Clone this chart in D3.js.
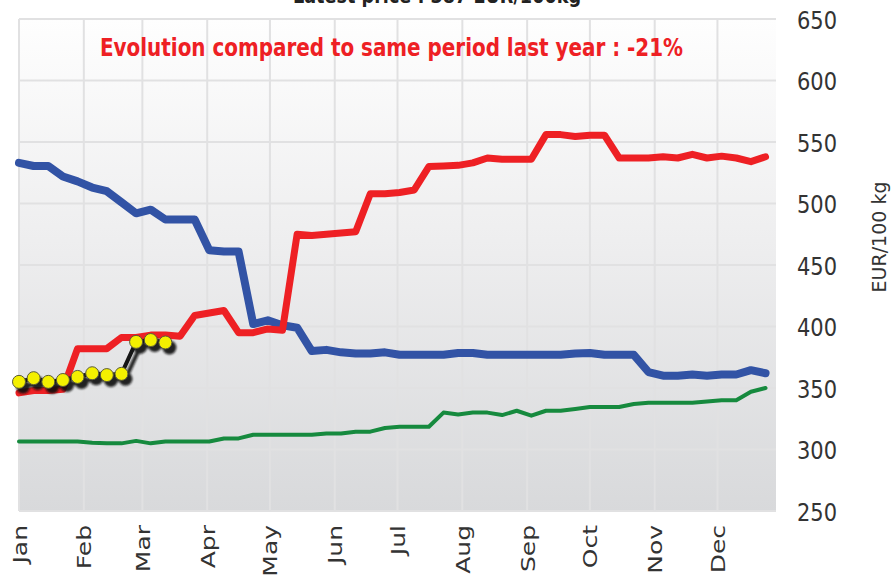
<!DOCTYPE html>
<html><head><meta charset="utf-8">
<script src="https://cdn.jsdelivr.net/npm/d3@7"></script>
<style>body{margin:0;background:#fff}svg{display:block}</style>
</head><body>
<svg id="c" width="893" height="579"></svg>
<script>
// ---- data ----
const titleText = "Latest price : 387 EUR/100kg";
const subtitleText = "Evolution compared to same period last year : -21%";
const yAxisTitle = "EUR/100 kg";
const yTicks = [250, 300, 350, 400, 450, 500, 550, 600, 650];
const monthLabels = ["Jan","Feb","Mar","Apr","May","Jun","Jul","Aug","Sep","Oct","Nov","Dec"];
const year = 2023;

const seriesRed = [346,348,348,349,382,382,382,391,391,393,393,392,409,411,413,395,395,398,397,475,474,475,476,477,508,508,509,511,530,530.5,531,533,537,536,536,536,556,556,554.5,555.5,555.5,537,537,537,538,537,540,537,538.5,537,534,538];
const seriesBlue = [533,530.5,530.5,522,518,513,510,501,492,495,487,487,487,462,461,461,402,405,401,399,380,381,379,378,378,379,377,377,377,377,378.5,378.5,377,377,377,377,377,377,378,378.5,377,377,377,363,360,360,361,360,361,361,364.5,362];
const seriesGreen = [306.5,306.5,306.5,306.5,306.5,305.5,305,305,307,305,306.5,306.5,306.5,306.5,309,309,312,312,312,312,312,313,313,314.5,314.5,317.5,318.5,318.5,318.5,330,328.5,330,330,328,331.5,327.5,331.5,331.5,333,334.5,334.5,334.5,337,338,338,338,338,339,340,340,347,350];
const seriesCurrent = [355,358,355,356.5,359,362,360.5,361.5,387.5,389,387];

// ---- layout ----
const svg = d3.select("#c");
const L = 19, R = 776, T = 19, B = 511;
const dateOf = i => d3.timeDay.offset(new Date(year,0,1), 7*i);
const x = d3.scaleTime().domain([new Date(year,0,1), new Date(year,11,29)]).range([L, R]);
const y = d3.scaleLinear().domain([250, 650]).range([B, T]);
const monthStarts = monthLabels.map((m,i) => new Date(year, i, 1));

const defs = svg.append("defs");
const grad = defs.append("linearGradient").attr("id","bg").attr("x1",0).attr("y1",0).attr("x2",0).attr("y2",1);
grad.append("stop").attr("offset","0%").attr("stop-color","#fefefe");
grad.append("stop").attr("offset","45%").attr("stop-color","#eeeeef");
grad.append("stop").attr("offset","100%").attr("stop-color","#d8d9db");
const blur = defs.append("filter").attr("id","sh").attr("x","-20%").attr("y","-20%").attr("width","140%").attr("height","140%");
blur.append("feGaussianBlur").attr("stdDeviation",1.2);

svg.append("rect").attr("x",L).attr("y",T).attr("width",R-L).attr("height",B-T).attr("fill","url(#bg)");

// grid
const grid = svg.append("g").attr("stroke","#e1e1e2").attr("stroke-width",2);
grid.selectAll("line.h").data(yTicks).join("line").attr("class","h")
  .attr("x1",L).attr("x2",R).attr("y1",d=>y(d)).attr("y2",d=>y(d));
grid.selectAll("line.v").data(monthStarts).join("line").attr("class","v")
  .attr("x1",d=>x(d)).attr("x2",d=>x(d)).attr("y1",T).attr("y2",B);

// lines
const line = d3.line().x((d,i)=>x(dateOf(i))).y(d=>y(d)).curve(d3.curveLinear);
svg.append("path").datum(seriesGreen).attr("d",line).attr("fill","none")
  .attr("stroke","#168a3e").attr("stroke-width",4).attr("stroke-linejoin","round").attr("stroke-linecap","round");
svg.append("path").datum(seriesBlue).attr("d",line).attr("fill","none")
  .attr("stroke","#3253a5").attr("stroke-width",8).attr("stroke-linejoin","round").attr("stroke-linecap","round");
svg.append("path").datum(seriesRed).attr("d",line).attr("fill","none")
  .attr("stroke","#ee2024").attr("stroke-width",7).attr("stroke-linejoin","round").attr("stroke-linecap","round");

// current year with shadow
const sh = svg.append("g").attr("transform","translate(4,5)").attr("filter","url(#sh)").attr("opacity",0.9);
sh.append("path").datum(seriesCurrent).attr("d",line).attr("fill","none").attr("stroke","#111").attr("stroke-width",4);
sh.selectAll("circle").data(seriesCurrent).join("circle")
  .attr("cx",(d,i)=>x(dateOf(i))).attr("cy",d=>y(d)).attr("r",7).attr("fill","#111");
svg.append("path").datum(seriesCurrent).attr("d",line).attr("fill","none")
  .attr("stroke","#151515").attr("stroke-width",4).attr("stroke-linejoin","round");
svg.append("g").selectAll("circle").data(seriesCurrent).join("circle")
  .attr("cx",(d,i)=>x(dateOf(i))).attr("cy",d=>y(d)).attr("r",6.5)
  .attr("fill","#f4f000").attr("stroke","#5a5a3a").attr("stroke-width",1);

// y axis (right)
const yAxis = svg.append("g").attr("transform",`translate(797,0)`)
  .call(d3.axisRight(y).tickValues(yTicks).tickSize(0).tickPadding(0));
yAxis.select(".domain").remove();
yAxis.selectAll("text").attr("font-family","DejaVu Sans, Verdana, sans-serif").attr("font-size",21)
  .attr("fill","#333").attr("x",0).attr("dy","0.36em")
  .attr("transform","scale(1,1.2)");

svg.append("text").attr("transform","translate(886,237) rotate(-90)")
  .attr("text-anchor","middle").attr("font-family","DejaVu Sans, Verdana, sans-serif")
  .attr("font-size",19).attr("fill","#333").text(yAxisTitle);

// x axis labels (rotated)
const xAxis = svg.append("g").attr("transform",`translate(0,${B})`)
  .call(d3.axisBottom(x).tickValues(monthStarts).tickFormat((d,i)=>monthLabels[i]).tickSize(0));
xAxis.select(".domain").remove();
xAxis.selectAll("text").attr("font-family","DejaVu Sans, Verdana, sans-serif").attr("font-size",20)
  .attr("fill","#333").attr("text-anchor","end").attr("y",0).attr("dy",0)
  .attr("transform","translate(7,14) rotate(-90) scale(1.25,1)");

// title & subtitle (title is partly above the top edge, as in the reference)
svg.append("text").attr("x",437).attr("y",3).attr("text-anchor","middle")
  .attr("font-family","DejaVu Sans Condensed, DejaVu Sans, sans-serif").attr("font-weight","bold")
  .attr("font-size",22).attr("fill","#222").attr("textLength",288).attr("lengthAdjust","spacingAndGlyphs").text(titleText);
svg.append("text").attr("x",100).attr("y",56)
  .attr("font-family","DejaVu Sans Condensed, DejaVu Sans, sans-serif").attr("font-weight","bold")
  .attr("font-size",24).attr("fill","#ee2024").attr("textLength",583).attr("lengthAdjust","spacingAndGlyphs").text(subtitleText);
</script>
</body></html>
